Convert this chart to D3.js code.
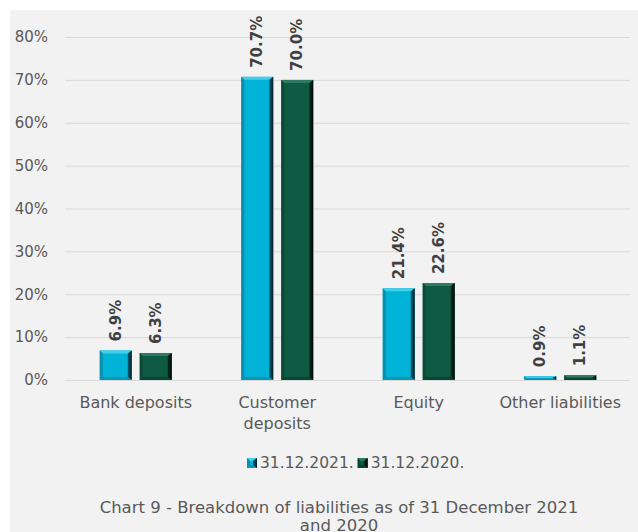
<!DOCTYPE html>
<html><head><meta charset="utf-8">
<script src="https://cdn.jsdelivr.net/npm/d3@7"></script>
<style>body{margin:0;background:#fff} svg text{font-family:"DejaVu Sans",sans-serif}</style>
</head><body><svg id="c" width="638" height="532"></svg>
<script>
const categories = ["Bank deposits", "Customer deposits", "Equity", "Other liabilities"];
const categoryLines = [["Bank deposits"], ["Customer", "deposits"], ["Equity"], ["Other liabilities"]];
const seriesNames = ["31.12.2021.", "31.12.2020."];
const values2021 = [6.9, 70.7, 21.4, 0.9];
const values2020 = [6.3, 70.0, 22.6, 1.1];
const yTicks = [0, 10, 20, 30, 40, 50, 60, 70, 80];
const titleLines = ["Chart 9 - Breakdown of liabilities as of 31 December 2021", "and 2020"];

const seriesValues = [values2021, values2020];
const palettes = [
  {face:"#00b3d7", top:"#45cde9", left:"#0a8fae", bottom:"#0796b6", r1:"#05607a", r2:"#001a22"},
  {face:"#0f5a43", top:"#2e7a60", left:"#0b4a37", bottom:"#09452f", r1:"#03301f", r2:"#000805"}
];

const svg = d3.select("#c");
const defs = svg.append("defs");
palettes.forEach((p,i)=>{
  const g = defs.append("linearGradient").attr("id","rg"+i).attr("x1","0").attr("x2","1").attr("y1","0").attr("y2","0");
  g.append("stop").attr("offset","0").attr("stop-color",p.r1);
  g.append("stop").attr("offset","1").attr("stop-color",p.r2);
});

svg.append("rect").attr("x",10).attr("y",10).attr("width",628).attr("height",522).attr("fill","#f2f2f2");

const x0 = d3.scaleBand().domain(categories).range([65, 631]).padding(0);
const x1 = d3.scaleBand().domain(seriesNames).range([0, x0.bandwidth()]).paddingInner(0.2).paddingOuter(0.87);
const y = d3.scaleLinear().domain([0, 80]).range([380, 37]);

// gridlines
svg.append("g").attr("transform","translate(65,0)")
  .call(d3.axisLeft(y).tickValues(yTicks).tickSize(-(630-65)).tickFormat(""))
  .call(g=>{g.select(".domain").remove(); g.selectAll("line").attr("stroke","#d9d9d9").attr("stroke-width",1);});

// y labels
svg.append("g").attr("transform","translate(65,0)")
  .call(d3.axisLeft(y).tickValues(yTicks).tickSize(0).tickPadding(17).tickFormat(d=>d+"%"))
  .call(g=>{g.select(".domain").remove(); g.selectAll("text").attr("fill","#595959").style("font-size","15px").style("font-family","DejaVu Sans");});

function bevelBar(g, x, yTop, w, h, p, i){
  const b = Math.min(3, h/2), br = Math.min(4, w/2);
  const yb = yTop + h;
  g.append("rect").attr("x",x).attr("y",yTop).attr("width",w).attr("height",h).attr("fill",p.face);
  const poly = pts => pts.map(q=>q.join(",")).join(" ");
  g.append("polygon").attr("points",poly([[x,yTop],[x+w,yTop],[x+w-br,yTop+b],[x+b,yTop+b]])).attr("fill",p.top);
  g.append("polygon").attr("points",poly([[x,yb],[x+w,yb],[x+w-br,yb-b],[x+b,yb-b]])).attr("fill",p.bottom);
  g.append("polygon").attr("points",poly([[x,yTop],[x+b,yTop+b],[x+b,yb-b],[x,yb]])).attr("fill",p.left);
  g.append("polygon").attr("points",poly([[x+w,yTop],[x+w,yb],[x+w-br,yb-b],[x+w-br,yTop+b]])).attr("fill","url(#rg"+i+")");
}

seriesNames.forEach((s,si)=>{
  const g = svg.append("g");
  categories.forEach((c,ci)=>{
    const v = seriesValues[si][ci];
    const bx = x0(c) + x1(s), bw = x1.bandwidth();
    const yt = y(v), h = y(0) - y(v);
    bevelBar(g.append("g"), bx, yt, bw, h, palettes[si], si);
    svg.append("text")
      .attr("transform", `translate(${bx+bw/2},${yt-9}) rotate(-90)`)
      .attr("text-anchor","start").attr("dominant-baseline","central")
      .style("font-size","15px").style("font-weight","bold").attr("fill","#404040")
      .text(v.toFixed(1)+"%");
  });
});

// x labels
categories.forEach((c,ci)=>{
  const t = svg.append("text").attr("text-anchor","middle").attr("fill","#595959").style("font-size","16px");
  categoryLines[ci].forEach((ln,li)=>{
    t.append("tspan").attr("x", x0(c)+x0.bandwidth()/2).attr("y", 408 + li*21).text(ln);
  });
});

// legend
let lx = 247;
seriesNames.forEach((s,si)=>{
  bevelBar(svg.append("g"), lx, 458, 10, 10, palettes[si], si);
  const t = svg.append("text").attr("x", lx+13).attr("y", 463).attr("dominant-baseline","central")
    .attr("fill","#595959").style("font-size","15.5px").text(s);
  lx = lx + 13 + t.node().getComputedTextLength() + 4;
});

// title
titleLines.forEach((ln,li)=>{
  svg.append("text").attr("x",339).attr("y",513 + li*18).attr("text-anchor","middle")
    .attr("fill","#595959").style("font-size","16.5px").text(ln);
});
</script></body></html>
